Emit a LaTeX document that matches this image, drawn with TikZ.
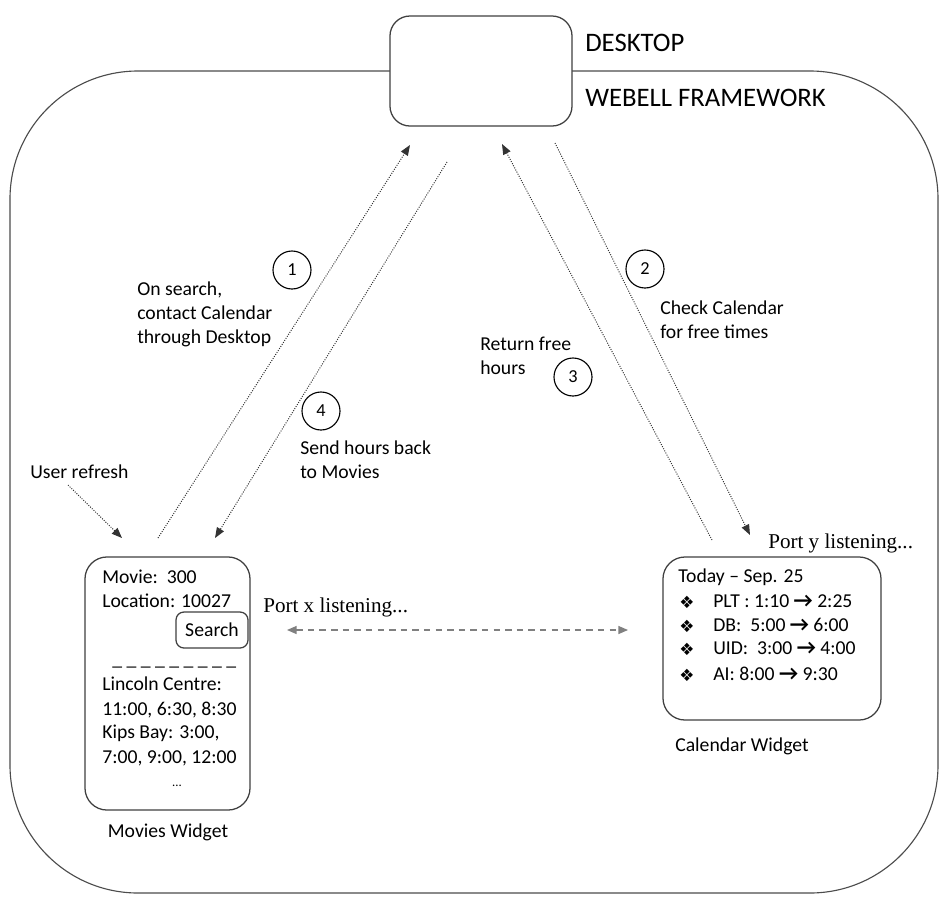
\documentclass[tikz,border=0pt]{standalone}
\usepackage{fontspec}
\setmainfont{Carlito}
\newfontfamily\portfont{Liberation Serif}
\newfontfamily\symfont{DejaVu Sans}
\usetikzlibrary{arrows.meta}
\newcommand\calarrow{{\bfseries\fontsize{15}{15}\selectfont →}}
\newcommand\calbullet{{\symfont\fontsize{12}{12}\selectfont ❖}}
\begin{document}
\begin{tikzpicture}[
  x={(0.025cm,0cm)},
  y={(0cm,-0.025cm)},
  inner sep=0pt,
  every node/.style={font=\fontsize{14}{17}\selectfont},
  box/.style={draw=black!75, line width=0.9pt, fill=white, rounded corners=0.55cm},
  note/.style={align=left, anchor=west},
  row/.style={anchor=base west},
  num/.style={draw, circle, line width=0.8pt, minimum size=0.95cm,
    font=\fontsize{13}{13}\selectfont},
  flow/.style={densely dotted, line width=0.7pt, black!80,
    -{Triangle[length=2.6mm,width=2mm]}},
  link/.style={gray, line width=0.9pt, dash pattern=on 1.6mm off 1.3mm,
    {Triangle[length=2.4mm,width=2mm]}-{Triangle[length=2.4mm,width=2mm]}}]
\useasboundingbox (0,0) rectangle (940,896);
% framework and desktop
\draw[black!70, line width=0.8pt, rounded corners=3.2cm] (10,71) rectangle (938,893);
\node[box, minimum width=4.55cm, minimum height=2.75cm, rounded corners=0.5cm]
  (desktop) at (481,71) {};
\node[note, font=\fontsize{19}{19}\selectfont] (desk) at (585,43) {DESKTOP};
\node[note, font=\fontsize{19}{19}\selectfont] (webell) at (585,98) {WEBELL FRAMEWORK};
% widgets
\node[box, minimum width=4.125cm, minimum height=6.325cm] (movies) at (167.5,683.5) {};
\node[box, minimum width=5.45cm, minimum height=4.075cm] (calendar) at (772,638.5) {};
\node[box, minimum width=1.8cm, minimum height=0.9cm, rounded corners=0.2cm]
  (search) at (212,630) {Search};
\foreach \yy/\t [count=\i] in {
  583/{Movie:\ \ 300},
  607/{Location: 10027},
  690/{Lincoln Centre:},
  715/{11:00, 6:30, 8:30},
  738/{Kips Bay: 3:00,},
  763/{7:00, 9:00, 12:00}}
  \node[row] (mv\i) at (102,\yy) {\t};
\node[note] (rule) at (112,667) {\_ \_ \_ \_ \_ \_ \_ \_ \_};
\node (more) at (177,786) {\fontsize{9}{9}\selectfont ...};
\node[row] (today) at (678,582) {Today – Sep. 25};
\foreach \yy/\t [count=\i] in {
  607/{PLT : 1:10 \calarrow{} 2:25},
  631/{DB:\ \ 5:00 \calarrow{} 6:00},
  654/{UID:\ \ 3:00 \calarrow{} 4:00},
  680/{AI: 8:00 \calarrow{} 9:30}}{
  \node (bul\i) at (687,\yy-5) {\calbullet};
  \node[row] (cal\i) at (713,\yy) {\t};}
\node (mcap) at (168,832) {Movies Widget};
\node (ccap) at (742,746) {Calendar Widget};
\node[note, font=\portfont\fontsize{15}{17}\selectfont] (portx) at (263,607) {Port x listening...};
\node[note, font=\portfont\fontsize{15}{17}\selectfont] (porty) at (768,543) {Port y listening...};
% steps
\node[note] (step1) at (137,314) {On search,\\contact Calendar\\through Desktop};
\node[note] (step2) at (660,320) {Check Calendar\\for free times};
\node[note] (step3) at (480,356) {Return free\\hours};
\node[note] (step4) at (300,460) {Send hours back\\to Movies};
\node[note] (refresh) at (30,472) {User refresh};
\foreach \n/\xx/\yy in {1/292/270, 2/645/269, 3/573/377, 4/321/411}
  \node[num] (c\n) at (\xx,\yy) {\n};
% connectors
\coordinate (m1) at (158,538);
\coordinate (d1) at (410,145);
\coordinate (d4) at (447,162);
\coordinate (m4) at (215,538);
\coordinate (k3) at (712,540);
\coordinate (d3) at (502,144);
\coordinate (d2) at (555,143);
\coordinate (k2) at (750,535);
\coordinate (r0) at (68,485);
\coordinate (r1) at (122,538);
\coordinate (px) at (287,630);
\coordinate (py) at (628,630);
\draw[flow] (m1) -- (d1);
\draw[flow] (d2) -- (k2);
\draw[flow] (k3) -- (d3);
\draw[flow] (d4) -- (m4);
\draw[flow] (r0) -- (r1);
\draw[link] (px) -- (py);
\end{tikzpicture}
\end{document}
